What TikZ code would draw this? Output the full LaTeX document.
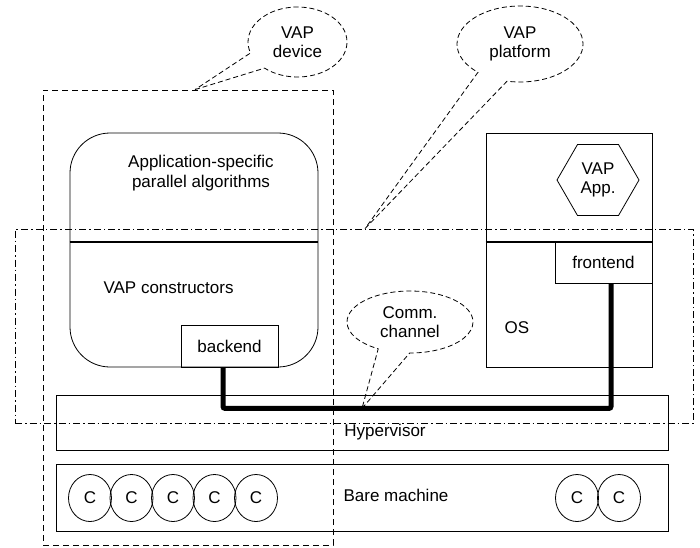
\documentclass[tikz,border=0pt]{standalone}
\usepackage{fontspec}
\setmainfont{Liberation Sans}
\usetikzlibrary{positioning,shapes.geometric,shapes.callouts}

\begin{document}
\begin{tikzpicture}[
    x=1pt, y=-1pt,
    every node/.style={font=\fontsize{17}{19.5}\selectfont},
    box/.style={draw, line width=0.8pt, inner sep=0pt},
    frame/.style={draw, line width=0.8pt, dash pattern=on 6pt off 4pt, inner sep=0pt},
    dashdot/.style={draw, line width=0.8pt, dash pattern=on 7pt off 3pt on 1.5pt off 3pt, inner sep=0pt},
    note/.style={ellipse callout, draw, line width=0.8pt, dash pattern=on 5pt off 3pt, align=center, callout pointer arc=30, inner sep=0pt},
    core/.style={ellipse, draw, line width=0.8pt, minimum width=43pt, minimum height=47pt, inner sep=0pt},
    sep/.style={line width=2pt},
    channel/.style={line width=5pt, rounded corners=2pt}
]
\useasboundingbox (0,0) rectangle (700,547);

% software stack
\node[box, rounded corners=40pt, minimum width=248pt, minimum height=234pt] (appbox) at (194,250) {};
\node[box, minimum width=166pt, minimum height=234pt] (osbox) at (569,250) {};
\node[align=center] (algo) at (201,173) {Application-specific\\parallel algorithms};
\node[anchor=west] (ctor) at (100,288) {VAP constructors};
\node (os) at (517,328) {OS};
\node[box, minimum width=97pt, minimum height=42pt] (backend) at (229.5,346) {backend};
\node[box, minimum width=97pt, minimum height=41pt] (frontend) at (603.5,262.5) {frontend};
\node[draw, line width=0.8pt, regular polygon, regular polygon sides=6, minimum size=82pt, inner sep=0pt, align=center] (vapapp) at (598,180) {VAP\\App.};

\draw[sep] (appbox.west |- frontend.north) -- (appbox.east |- frontend.north);
\draw[sep] (osbox.west |- frontend.north) -- (osbox.east |- frontend.north);

% hypervisor and hardware
\node[box, minimum width=612pt, minimum height=55pt] (hyper) at (362,422.5) {};
\node (hyptext) at (385,432) {Hypervisor};
\node[box, minimum width=612pt, minimum height=67pt] (bare) at (362,498) {};
\node (baretext) at (396,495) {Bare machine};
\foreach \i/\x in {1/90,2/131.5,3/173,4/214.5,5/256,6/577,7/619}
    \node[core] (c\i) at (\x,498) {C};

% communication channel
\draw[channel] ([xshift=-6.5pt]backend.south) -- ++(0,41) coordinate (chan) -| ([xshift=7.5pt]frontend.south);

% groupings
\node[frame, minimum width=290pt, minimum height=455pt] (device) at (188,317.5) {};
\node[dashdot, minimum width=678pt, minimum height=194pt] (platform) at (354,326) {};

\node[note, minimum width=99pt, minimum height=70pt, callout absolute pointer={([xshift=7pt]device.north)}] (devnote) at (297.5,42) {VAP\\device};
\node[note, minimum width=126pt, minimum height=76pt, callout absolute pointer={([xshift=11pt]platform.north)}] (platnote) at (520,44) {VAP\\platform};
\node[note, minimum width=126pt, minimum height=62pt, callout absolute pointer={([xshift=139pt]chan)}] (commnote) at (410,322) {Comm.\\channel};
\end{tikzpicture}
\end{document}
